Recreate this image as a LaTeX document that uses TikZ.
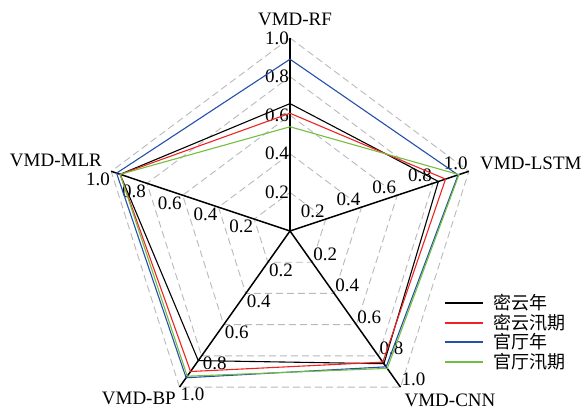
\documentclass[tikz,border=0pt]{standalone}
\usepackage{fontspec}
\setmainfont{Liberation Serif}
\newfontfamily\cjkfont{Noto Sans CJK SC}
\definecolor{gridgray}{RGB}{185,185,185}
\definecolor{serred}{RGB}{240,35,35}
\definecolor{serblue}{RGB}{35,80,170}
\definecolor{sergreen}{RGB}{115,190,65}
\tikzset{
  gridline/.style={draw=gridgray,dash pattern=on 7pt off 4pt,line width=0.9pt},
  axisline/.style={line width=1.5pt},
  serline/.style={line width=1.1pt},
  ticklab/.style={inner sep=1pt},
  axlab/.style={inner sep=0pt},
}
\begin{document}
\begin{tikzpicture}[x=188pt,y=193pt,font=\fontsize{19}{21}\selectfont]
      \useasboundingbox (-290pt,-180pt) rectangle (297pt,231pt);
      % grid
      \foreach \r in {0.2,0.4,0.6,0.8,1.0}
        \draw[gridline] (90:\r) -- (18:\r) -- (-54:\r) -- (-126:\r) -- (162:\r) -- cycle;
      % axes
      \coordinate (c) at (0,0);
      \coordinate (rf) at (90:1);
      \coordinate (lstm) at (18:1);
      \coordinate (cnn) at (-54:1);
      \coordinate (bp) at (-126:1);
      \coordinate (mlr) at (162:1);
      \draw[axisline] (c) -- (rf);
      \draw[axisline] (c) -- (lstm);
      \draw[axisline] (c) -- (cnn);
      \draw[axisline] (c) -- (bp);
      \draw[axisline] (c) -- (mlr);
      \foreach \a/\anc in {90/east,18/south east,-54/south west,-126/north west,162/north east}
        \foreach \r in {0.2,0.4,0.6,0.8,1.0}
          \node[ticklab,anchor=\anc] at (\a:\r) {\r};
      \node[axlab] (lrf) at (5pt,212pt) {VMD-RF};
      \node[axlab,anchor=west] (llstm) at (190pt,68pt) {VMD-LSTM};
      \node[axlab,anchor=east] (lmlr) at (-188pt,71pt) {VMD-MLR};
      \node[axlab] (lcnn) at (160pt,-169pt) {VMD-CNN};
      \node[axlab,anchor=east] (lbp) at (-114pt,-167pt) {VMD-BP};
      % series
      \draw[serline,black] (90:0.66) -- (18:0.83) -- (-54:0.85) -- (-126:0.83) -- (162:0.95) -- cycle;
      \draw[serline,serred] (90:0.61) -- (18:0.87) -- (-54:0.84) -- (-126:0.90) -- (162:0.95) -- cycle;
      \draw[serline,serblue] (90:0.89) -- (18:0.94) -- (-54:0.87) -- (-126:0.94) -- (162:0.97) -- cycle;
      \draw[serline,sergreen] (90:0.54) -- (18:0.945) -- (-54:0.88) -- (-126:0.93) -- (162:0.95) -- cycle;
      % legend
      \coordinate (k1) at (155pt,-72pt);
      \coordinate (k1e) at (193pt,-72pt);
      \draw[serline,black] (k1) -- (k1e);
      \node[axlab,anchor=west,font=\fontsize{18}{20}\cjkfont] (t1) at (203pt,-72pt) {密云年};
      \coordinate (k2) at (155pt,-92pt);
      \coordinate (k2e) at (193pt,-92pt);
      \draw[serline,serred] (k2) -- (k2e);
      \node[axlab,anchor=west,font=\fontsize{18}{20}\cjkfont] (t2) at (203pt,-92pt) {密云汛期};
      \coordinate (k3) at (155pt,-111pt);
      \coordinate (k3e) at (193pt,-111pt);
      \draw[serline,serblue] (k3) -- (k3e);
      \node[axlab,anchor=west,font=\fontsize{18}{20}\cjkfont] (t3) at (203pt,-111pt) {官厅年};
      \coordinate (k4) at (155pt,-131pt);
      \coordinate (k4e) at (193pt,-131pt);
      \draw[serline,sergreen] (k4) -- (k4e);
      \node[axlab,anchor=west,font=\fontsize{18}{20}\cjkfont] (t4) at (203pt,-131pt) {官厅汛期};
    \end{tikzpicture}
\end{document}
